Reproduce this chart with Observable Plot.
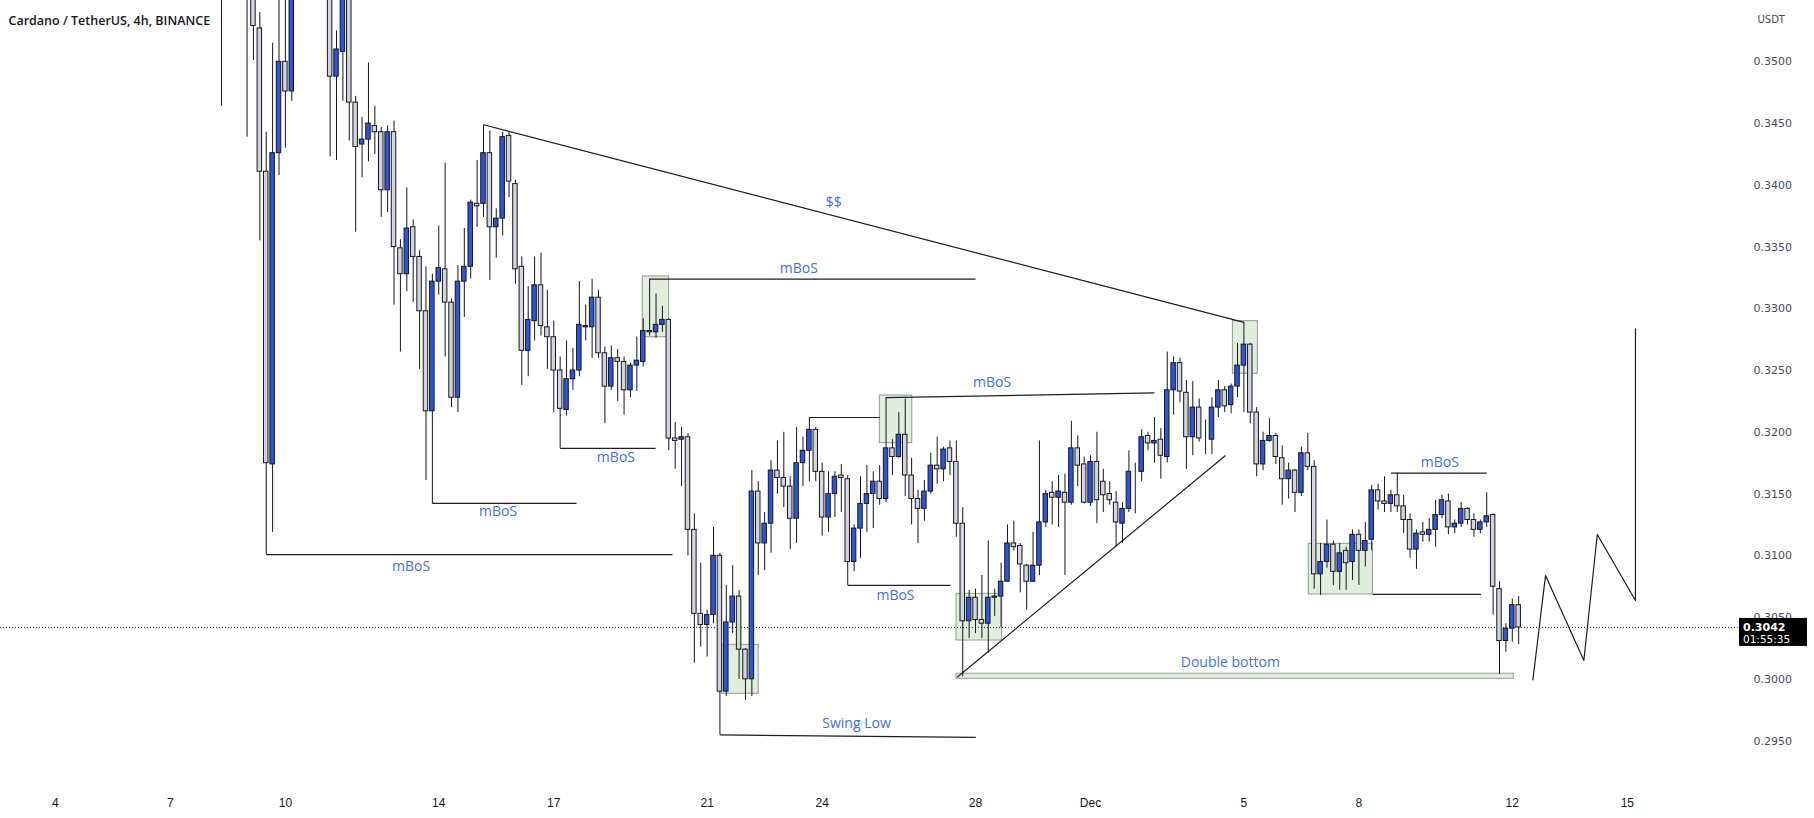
<!DOCTYPE html>
<html>
<head>
<meta charset="utf-8">
<script src="https://cdn.jsdelivr.net/npm/d3@7"></script>
<script src="https://cdn.jsdelivr.net/npm/@observablehq/plot@0.6"></script>
<style>
html,body{margin:0;padding:0;background:#ffffff;overflow:hidden;}
#chart svg{display:block;}
</style>
</head>
<body>
<div id="chart"></div>
<script>
// ---------- DATA ----------
const title = "Cardano / TetherUS, 4h, BINANCE";
const currency = "USDT";
const lastPrice = 0.3042;
const countdown = "01:55:35";

// candle open times (UTC, 2022, "MM-DD HH")
const times = [
"11-08 08","11-08 12","11-08 16","11-08 20",
"11-09 00","11-09 04","11-09 08","11-09 12","11-09 16","11-09 20",
"11-10 00","11-10 04","11-10 08","11-10 12","11-10 16","11-10 20",
"11-11 00","11-11 04","11-11 08","11-11 12","11-11 16","11-11 20",
"11-12 00","11-12 04","11-12 08","11-12 12","11-12 16","11-12 20",
"11-13 00","11-13 04","11-13 08","11-13 12","11-13 16","11-13 20",
"11-14 00","11-14 04","11-14 08","11-14 12","11-14 16","11-14 20",
"11-15 00","11-15 04","11-15 08","11-15 12","11-15 16","11-15 20",
"11-16 00","11-16 04","11-16 08","11-16 12","11-16 16","11-16 20",
"11-17 00","11-17 04","11-17 08","11-17 12","11-17 16","11-17 20",
"11-18 00","11-18 04","11-18 08","11-18 12","11-18 16","11-18 20",
"11-19 00","11-19 04","11-19 08","11-19 12","11-19 16","11-19 20",
"11-20 00","11-20 04","11-20 08","11-20 12","11-20 16","11-20 20",
"11-21 00","11-21 04","11-21 08","11-21 12","11-21 16","11-21 20",
"11-22 00","11-22 04","11-22 08","11-22 12","11-22 16","11-22 20",
"11-23 00","11-23 04","11-23 08","11-23 12","11-23 16","11-23 20",
"11-24 00","11-24 04","11-24 08","11-24 12","11-24 16","11-24 20",
"11-25 00","11-25 04","11-25 08","11-25 12","11-25 16","11-25 20",
"11-26 00","11-26 04","11-26 08","11-26 12","11-26 16","11-26 20",
"11-27 00","11-27 04","11-27 08","11-27 12","11-27 16","11-27 20",
"11-28 00","11-28 04","11-28 08","11-28 12","11-28 16","11-28 20",
"11-29 00","11-29 04","11-29 08","11-29 12","11-29 16","11-29 20",
"11-30 00","11-30 04","11-30 08","11-30 12","11-30 16","11-30 20",
"12-01 00","12-01 04","12-01 08","12-01 12","12-01 16","12-01 20",
"12-02 00","12-02 04","12-02 08","12-02 12","12-02 16","12-02 20",
"12-03 00","12-03 04","12-03 08","12-03 12","12-03 16","12-03 20",
"12-04 00","12-04 04","12-04 08","12-04 12","12-04 16","12-04 20",
"12-05 00","12-05 04","12-05 08","12-05 12","12-05 16","12-05 20",
"12-06 00","12-06 04","12-06 08","12-06 12","12-06 16","12-06 20",
"12-07 00","12-07 04","12-07 08","12-07 12","12-07 16","12-07 20",
"12-08 00","12-08 04","12-08 08","12-08 12","12-08 16","12-08 20",
"12-09 00","12-09 04","12-09 08","12-09 12","12-09 16","12-09 20",
"12-10 00","12-10 04","12-10 08","12-10 12","12-10 16","12-10 20",
"12-11 00","12-11 04","12-11 08","12-11 12","12-11 16","12-11 20",
"12-12 00","12-12 04"
];

const open = [
0.3625,0.3600,0.3650,0.3620,0.3580,0.3570,0.3527,0.3411,0.3174,0.3426,
0.3500,0.3476,0.3580,0.3620,0.3660,0.3640,0.3600,0.3590,0.3488,0.3508,
0.3570,0.3467,0.3433,0.3437,0.3448,0.3443,0.3396,0.3443,0.3349,0.3328,
0.3366,0.3342,0.3298,0.3217,0.3322,0.3332,0.3305,0.3228,0.3322,0.3334,
0.3385,0.3385,0.3426,0.3366,0.3373,0.3440,0.3401,0.3334,0.3266,0.3290,
0.3319,0.3285,0.3277,0.3250,0.3218,0.3243,0.3250,0.3285,0.3285,0.3309,
0.3264,0.3237,0.3260,0.3257,0.3234,0.3254,0.3257,0.3282,0.3281,0.3287,
0.3291,0.3195,0.3194,0.3196,0.3121,0.3053,0.3044,0.3052,0.3100,0.2990,
0.3046,0.3067,0.3024,0.3000,0.3152,0.3110,0.3126,0.3169,0.3163,0.3156,
0.3130,0.3175,0.3185,0.3202,0.3168,0.3131,0.3150,0.3165,0.3162,0.3095,
0.3122,0.3142,0.3150,0.3160,0.3146,0.3187,0.3180,0.3198,0.3165,0.3146,
0.3138,0.3152,0.3173,0.3170,0.3187,0.3176,0.3126,0.3047,0.3066,0.3048,
0.3045,0.3066,0.3067,0.3079,0.3110,0.3108,0.3092,0.3079,0.3092,0.3127,
0.3151,0.3147,0.3151,0.3143,0.3187,0.3174,0.3143,0.3176,0.3160,0.3150,
0.3143,0.3126,0.3138,0.3168,0.3168,0.3197,0.3191,0.3194,0.3180,0.3234,
0.3256,0.3232,0.3196,0.3220,0.3195,0.3194,0.3220,0.3234,0.3222,0.3237,
0.3254,0.3271,0.3216,0.3174,0.3193,0.3197,0.3179,0.3162,0.3169,0.3151,
0.3183,0.3172,0.3085,0.3095,0.3109,0.3087,0.3104,0.3095,0.3117,0.3104,
0.3113,0.3153,0.3144,0.3142,0.3149,0.3140,0.3129,0.3105,0.3119,0.3117,
0.3121,0.3133,0.3144,0.3123,0.3126,0.3138,0.3129,0.3121,0.3127,0.3133,
0.3073,0.3031,0.3041,0.3060
];
const high = [
0.3660,0.3680,0.3700,0.3660,0.3620,0.3590,0.3540,0.3443,0.3515,0.3570,
0.3560,0.3600,0.3650,0.3700,0.3720,0.3680,0.3640,0.3620,0.3525,0.3600,
0.3590,0.3472,0.3455,0.3499,0.3464,0.3447,0.3448,0.3452,0.3356,0.3398,
0.3372,0.3347,0.3334,0.3328,0.3367,0.3418,0.3308,0.3335,0.3365,0.3388,
0.3420,0.3449,0.3444,0.3381,0.3443,0.3443,0.3404,0.3342,0.3318,0.3342,
0.3345,0.3315,0.3290,0.3261,0.3274,0.3268,0.3322,0.3303,0.3324,0.3315,
0.3269,0.3270,0.3267,0.3261,0.3256,0.3277,0.3292,0.3324,0.3312,0.3302,
0.3292,0.3208,0.3204,0.3199,0.3134,0.3094,0.3056,0.3123,0.3102,0.3076,
0.3092,0.3072,0.3025,0.3169,0.3160,0.3135,0.3177,0.3193,0.3200,0.3164,
0.3204,0.3196,0.3212,0.3204,0.3175,0.3168,0.3168,0.3174,0.3165,0.3125,
0.3164,0.3173,0.3168,0.3173,0.3228,0.3194,0.3216,0.3227,0.3179,0.3153,
0.3161,0.3183,0.3196,0.3188,0.3193,0.3193,0.3139,0.3072,0.3073,0.3084,
0.3112,0.3073,0.3094,0.3125,0.3128,0.3110,0.3093,0.3119,0.3193,0.3153,
0.3160,0.3165,0.3166,0.3209,0.3197,0.3180,0.3181,0.3200,0.3170,0.3160,
0.3152,0.3143,0.3185,0.3175,0.3202,0.3200,0.3212,0.3203,0.3265,0.3261,
0.3260,0.3242,0.3241,0.3227,0.3210,0.3228,0.3242,0.3237,0.3239,0.3272,
0.3289,0.3272,0.3220,0.3200,0.3211,0.3199,0.3189,0.3175,0.3170,0.3188,
0.3199,0.3177,0.3110,0.3129,0.3112,0.3110,0.3107,0.3121,0.3121,0.3127,
0.3157,0.3158,0.3164,0.3153,0.3167,0.3149,0.3134,0.3121,0.3127,0.3130,
0.3145,0.3149,0.3150,0.3129,0.3143,0.3139,0.3134,0.3129,0.3151,0.3134,
0.3079,0.3045,0.3065,0.3067
];
const low = [
0.3464,0.3570,0.3600,0.3560,0.3439,0.3501,0.3355,0.3101,0.3119,0.3408,
0.3430,0.3468,0.3560,0.3590,0.3620,0.3580,0.3560,0.3423,0.3420,0.3468,
0.3436,0.3362,0.3406,0.3419,0.3425,0.3374,0.3378,0.3303,0.3265,0.3314,
0.3305,0.3251,0.3161,0.3142,0.3311,0.3261,0.3220,0.3216,0.3293,0.3324,
0.3366,0.3374,0.3323,0.3341,0.3359,0.3390,0.3320,0.3238,0.3245,0.3274,
0.3278,0.3251,0.3216,0.3187,0.3213,0.3234,0.3245,0.3274,0.3260,0.3260,
0.3207,0.3234,0.3225,0.3214,0.3228,0.3233,0.3253,0.3278,0.3276,0.3281,
0.3185,0.3170,0.3156,0.3100,0.3013,0.3026,0.3018,0.3045,0.2955,0.2986,
0.3037,0.3000,0.2983,0.2986,0.3084,0.3088,0.3102,0.3150,0.3139,0.3105,
0.3110,0.3156,0.3160,0.3160,0.3116,0.3119,0.3131,0.3135,0.3076,0.3087,
0.3098,0.3119,0.3122,0.3141,0.3143,0.3165,0.3179,0.3148,0.3125,0.3110,
0.3128,0.3150,0.3158,0.3160,0.3165,0.3115,0.3002,0.3033,0.3037,0.3033,
0.3021,0.3051,0.3042,0.3079,0.3104,0.3070,0.3056,0.3079,0.3084,0.3123,
0.3125,0.3123,0.3084,0.3141,0.3156,0.3142,0.3140,0.3126,0.3135,0.3141,
0.3107,0.3110,0.3135,0.3134,0.3160,0.3185,0.3175,0.3162,0.3175,0.3214,
0.3224,0.3170,0.3181,0.3192,0.3182,0.3182,0.3212,0.3216,0.3215,0.3228,
0.3216,0.3207,0.3164,0.3169,0.3192,0.3174,0.3141,0.3146,0.3135,0.3148,
0.3169,0.3073,0.3068,0.3090,0.3076,0.3072,0.3072,0.3080,0.3076,0.3091,
0.3104,0.3137,0.3135,0.3135,0.3135,0.3118,0.3098,0.3089,0.3111,0.3111,
0.3107,0.3130,0.3117,0.3118,0.3123,0.3125,0.3115,0.3118,0.3123,0.3052,
0.3004,0.3022,0.3030,0.3028
];
const close = [
0.3600,0.3650,0.3620,0.3580,0.3570,0.3529,0.3411,0.3175,0.3426,0.3500,
0.3476,0.3580,0.3620,0.3660,0.3640,0.3600,0.3590,0.3488,0.3510,0.3570,
0.3467,0.3431,0.3437,0.3450,0.3443,0.3396,0.3443,0.3350,0.3328,0.3365,
0.3342,0.3298,0.3217,0.3322,0.3333,0.3305,0.3228,0.3322,0.3334,0.3386,
0.3383,0.3426,0.3366,0.3373,0.3439,0.3403,0.3332,0.3266,0.3291,0.3319,
0.3286,0.3277,0.3250,0.3219,0.3243,0.3250,0.3287,0.3286,0.3309,0.3264,
0.3237,0.3260,0.3257,0.3234,0.3254,0.3258,0.3282,0.3281,0.3287,0.3291,
0.3195,0.3193,0.3196,0.3121,0.3053,0.3044,0.3052,0.3100,0.2990,0.3046,
0.3067,0.3024,0.3000,0.3152,0.3110,0.3126,0.3169,0.3163,0.3156,0.3130,
0.3175,0.3185,0.3202,0.3168,0.3131,0.3150,0.3164,0.3163,0.3095,0.3122,
0.3142,0.3150,0.3160,0.3146,0.3187,0.3180,0.3198,0.3165,0.3146,0.3138,
0.3152,0.3173,0.3170,0.3186,0.3176,0.3126,0.3047,0.3066,0.3048,0.3045,
0.3066,0.3067,0.3079,0.3110,0.3107,0.3093,0.3079,0.3092,0.3127,0.3150,
0.3147,0.3152,0.3143,0.3187,0.3173,0.3143,0.3176,0.3145,0.3149,0.3145,
0.3127,0.3138,0.3168,0.3168,0.3196,0.3191,0.3193,0.3181,0.3234,0.3256,
0.3233,0.3196,0.3220,0.3195,0.3195,0.3220,0.3234,0.3221,0.3237,0.3254,
0.3271,0.3216,0.3174,0.3193,0.3197,0.3180,0.3162,0.3169,0.3151,0.3183,
0.3172,0.3085,0.3095,0.3109,0.3087,0.3102,0.3094,0.3117,0.3104,0.3112,
0.3153,0.3144,0.3142,0.3149,0.3140,0.3129,0.3105,0.3118,0.3117,0.3121,
0.3133,0.3145,0.3123,0.3126,0.3138,0.3129,0.3121,0.3127,0.3132,0.3075,
0.3031,0.3041,0.3060,0.3042
];

// visible window
const viewStart = "11-02 13:40";
const viewEnd = "12-17 21:36";
const priceMin = 0.290996;
const priceMax = 0.354964;

// axis ticks
const priceTicks = [0.295,0.300,0.305,0.310,0.315,0.320,0.325,0.330,0.335,0.340,0.345,0.350];
const dateTicks = ["11-04 00","11-07 00","11-10 00","11-14 00","11-17 00","11-21 00","11-24 00","11-28 00","12-01 00","12-05 00","12-08 00","12-12 00","12-15 00"];
const dateTickLabels = ["4","7","10","14","17","21","24","28","Dec","5","8","12","15"];

// drawn trend / structure lines: [time1, price1, time2, price2]
const drawnLines = [
  ["11-15 04",0.3449,"12-05 00",0.3289],      // $$
  ["11-09 12",0.3101,"11-20 02:18",0.3101],   // mBoS
  ["11-13 20",0.31424,"11-17 14:18",0.31424], // mBoS
  ["11-17 04",0.3187,"11-19 15:42",0.3187],   // mBoS
  ["11-19 12",0.3324,"11-28 00",0.3324],      // mBoS
  ["11-23 16",0.3212,"11-25 12:06",0.3212],
  ["11-25 16",0.3228,"12-02 16",0.3232],      // mBoS
  ["11-24 16",0.3076,"11-27 08:18",0.3076],   // mBoS
  ["12-08 20",0.3167,"12-11 08",0.3167],      // mBoS
  ["12-08 08:42",0.30687,"12-11 04:30",0.30687],
  ["11-27 12:30",0.30017,"12-04 12:30",0.31812], // rising trend line
  ["11-21 08",0.2955,"11-28 00:12",0.2953]    // swing low
];

// highlighted zones: [time1, time2, priceTop, priceBottom]
const zones = [
  ["11-19 07:42","11-20 00:12",0.33262,0.3277],
  ["11-21 09:24","11-22 08:18",0.30279,0.29883],
  ["11-25 12:06","11-26 08:24",0.32298,0.31912],
  ["11-27 12:06","11-28 16:42",0.30692,0.30314],
  ["12-04 17:06","12-05 08:42",0.32900,0.32474],
  ["12-06 16:36","12-08 08:42",0.31097,0.30687],
  ["11-27 12:06","12-12 00:54",0.30045,0.30004]
];

// annotation labels: [time, price, text]
const notes = [
  ["11-24 07:18",0.33863,"$$"],
  ["11-13 06:42",0.30915,"mBoS"],
  ["11-15 13:06",0.31355,"mBoS"],
  ["11-18 14:54",0.31796,"mBoS"],
  ["11-23 09:24",0.33324,"mBoS"],
  ["11-28 10:24",0.32406,"mBoS"],
  ["11-25 21:54",0.30679,"mBoS"],
  ["12-10 02:36",0.31758,"mBoS"],
  ["11-24 21:30",0.29642,"Swing Low"],
  ["12-04 15:30",0.30138,"Double bottom"]
];

// projected path
const projection = [
  ["12-12 12:54",0.29996],
  ["12-12 20:48",0.3084],
  ["12-13 20:48",0.30152],
  ["12-14 05:12",0.31172],
  ["12-15 05:06",0.30638],
  ["12-15 05:06",0.32838]
];

// ---------- BUILD ----------
function parseT(s) {
  const [md, hm] = s.split(" ");
  const [mo, da] = md.split("-").map(Number);
  const [hh, mm = 0] = hm.split(":").map(Number);
  return new Date(Date.UTC(2022, mo - 1, da, hh, mm));
}
const candles = times.map((s, i) => ({t: parseT(s), o: open[i], h: high[i], l: low[i], c: close[i]}));
const bull = candles.filter(d => d.c >= d.o);
const bear = candles.filter(d => d.c < d.o);
const half = 1.4 * 3600e3;
const lineRows = drawnLines.map(r => ({x1: parseT(r[0]), y1: r[1], x2: parseT(r[2]), y2: r[3]}));
const zoneRows = zones.map(r => ({x1: parseT(r[0]), x2: parseT(r[1]), y1: r[2], y2: r[3]}));
const noteRows = notes.map(r => ({x: parseT(r[0]), y: r[1], text: r[2]}));
const projRows = projection.map(r => ({x: parseT(r[0]), y: r[1]}));
const dateTickRows = dateTicks.map((s, i) => ({x: parseT(s), label: dateTickLabels[i]}));

const INK = "#131722";
const BLUE = "#2d55d5";
const GRAY = "#d3d5dc";
const NOTE = "#4470dc";

const bodyOpts = (fill) => ({
  x1: d => new Date(+d.t - half), x2: d => new Date(+d.t + half),
  y1: "o", y2: "c", fill, stroke: "#15171f", strokeWidth: 1, clip: true
});

const plot = Plot.plot({
  width: 1814, height: 818,
  marginLeft: 0, marginRight: 76, marginTop: 0, marginBottom: 28,
  x: {type: "utc", domain: [parseT(viewStart), parseT(viewEnd)], axis: null},
  y: {domain: [priceMin, priceMax], axis: null},
  style: {background: "#ffffff", overflow: "visible"},
  marks: [
    Plot.rect(zoneRows, {x1: "x1", x2: "x2", y1: "y1", y2: "y2", fill: "#dcebd8", fillOpacity: 0.85, stroke: "#8e9d8c", strokeWidth: 1, clip: true}),
    Plot.ruleY([lastPrice], {stroke: "#2a2e39", strokeWidth: 1, strokeDasharray: "1,2"}),
    Plot.ruleX(candles, {x: "t", y1: "l", y2: "h", stroke: "#15171f", strokeWidth: 1, clip: true}),
    Plot.rect(bear, bodyOpts(GRAY)),
    Plot.rect(bull, bodyOpts(BLUE)),
    Plot.link(lineRows, {x1: "x1", y1: "y1", x2: "x2", y2: "y2", stroke: "#1c1e26", strokeWidth: 1.2, clip: true}),
    Plot.line(projRows, {x: "x", y: "y", stroke: "#1c1e26", strokeWidth: 1.2}),
    Plot.text(noteRows, {x: "x", y: "y", text: "text", fill: NOTE, fontSize: 14, fontFamily: "Open Sans, sans-serif"}),
    Plot.text(priceTicks, {y: d => d, text: d => d.toFixed(4), frameAnchor: "right", dx: 15, textAnchor: "start", fill: "#4a4d57", fontSize: 11, fontFamily: "DejaVu Sans, sans-serif"}),
    Plot.text(dateTickRows, {x: "x", text: "label", frameAnchor: "bottom", dy: 16, fill: INK, fontSize: 12, fontFamily: "'Liberation Sans Narrow', 'Liberation Sans', sans-serif"}),
    Plot.text([title], {frameAnchor: "top-left", dx: 8, dy: 16, text: d => d, textAnchor: "start", fill: INK, fontSize: 12.5, fontWeight: 600, fontFamily: "Open Sans, sans-serif"}),
    Plot.text([currency], {frameAnchor: "top-right", dx: 19, dy: 15, text: d => d, textAnchor: "start", fill: "#4a4d57", fontSize: 10, fontFamily: "DejaVu Sans, sans-serif"})
  ]
});

// current price tag on the price scale
const yPix = plot.scale("y").apply(lastPrice);
const svg = d3.select(plot);
const tag = svg.append("g").attr("text-anchor", "start");
tag.append("rect").attr("x", 1739).attr("y", yPix - 9).attr("width", 68).attr("height", 28).attr("fill", "#000");
tag.append("text").attr("x", 1743).attr("y", yPix + 1).attr("fill", "#fff").attr("text-anchor", "start")
  .attr("font-family", "DejaVu Sans, sans-serif").attr("font-size", 11).attr("font-weight", "bold")
  .attr("dominant-baseline", "middle").text(lastPrice.toFixed(4));
tag.append("text").attr("x", 1743).attr("y", yPix + 13).attr("fill", "#fff").attr("text-anchor", "start")
  .attr("font-family", "DejaVu Sans, sans-serif").attr("font-size", 10.5)
  .attr("dominant-baseline", "middle").text(countdown);

document.getElementById("chart").appendChild(plot);
</script>
</body>
</html>
